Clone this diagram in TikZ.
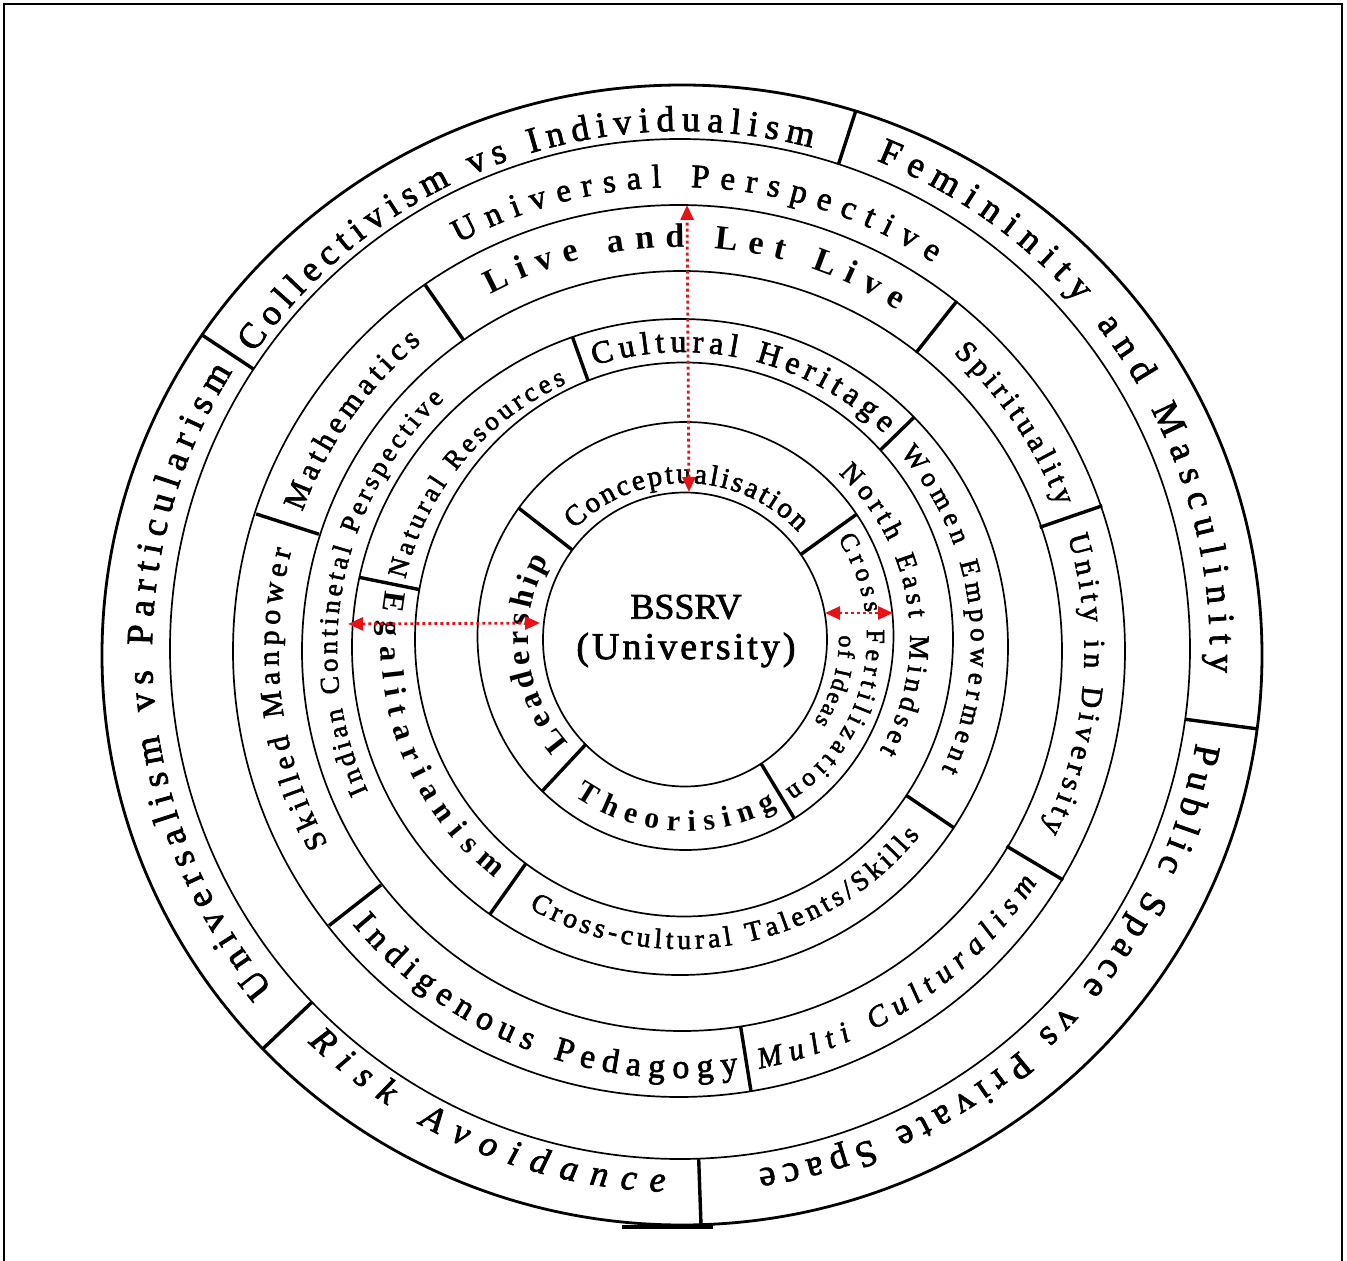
\documentclass[tikz,border=0pt]{standalone}
\usepackage{fontspec}
\setmainfont{Liberation Serif}
\usetikzlibrary{decorations.text,arrows.meta}
\definecolor{arrowred}{RGB}{232,18,22}
% font of a ring label: size, slightly heavier than regular
\newcommand{\rf}[1]{\fontsize{#1}{#1}\selectfont\addfontfeature{FakeBold=2}}
% text fitted along an arc: center, baseline radius, start angle, end angle, font, text
\newcommand{\arctext}[6]{%
  \path[decorate,decoration={text along path,text={|#5|#6},text align={fit to path}}]
    ([shift={#1}]#3:#2) arc[start angle=#3,end angle=#4,radius=#2];}
% radial divider: center, angle, inner radius, outer radius
\newcommand{\divl}[4]{\draw[divline] ([shift={#1}]#2:#3) -- ([shift={#1}]#2:#4);}
\begin{document}
\begin{tikzpicture}[x=1pt,y=1pt,
  ringline/.style={line width=1.7pt},
  outerline/.style={line width=2.8pt},
  divline/.style={line width=3.4pt},
  redarrow/.style={draw=arrowred,line width=2.8pt,dash pattern=on 3pt off 3pt,
     {Triangle[length=15pt,width=13pt,fill=arrowred]}-{Triangle[length=15pt,width=13pt,fill=arrowred]}}]
\useasboundingbox (-681,-613) rectangle (666,648);
\draw[line width=1.8pt] (-677,-613) -- (-677,644) -- (661,644) -- (661,-613);

% circles
\coordinate (c0) at (4,8.5);
\coordinate (c1) at (4.5,12);
\coordinate (c2) at (3,8.5);
\coordinate (c3) at (-1,1);
\coordinate (c4) at (1,-3);
\coordinate (c5) at (-2,-3);
\coordinate (c6) at (-1,-1);
\coordinate (c7) at (1,-7);
\draw[ringline] (c0) ellipse[x radius=142,y radius=147];
\draw[ringline] (c1) ellipse[x radius=208,y radius=214];
\draw[ringline] (c2) ellipse[x radius=269,y radius=277];
\draw[ringline] (c3) circle[radius=328];
\draw[ringline] (c4) circle[radius=380];
\draw[ringline] (c5) circle[radius=446];
\draw[ringline] (c6) circle[radius=510];
\draw[outerline] (c7) ellipse[x radius=580,y radius=570];
\draw[line width=3.5pt] (-59,-579) -- (32,-579);

% ring 7 (outer)
\arctext{(0,-4)}{529}{219.5}{148}{\rf{37}}{Universalism vs Particularism}
\arctext{(0,-4)}{521}{145}{75.5}{\rf{36}}{Collectivism vs Individualism}
\arctext{(0,-4)}{529}{68.3}{-2.2}{\rf{37}}{Femininity and Masculinity}
\arctext{(0,-4)}{523}{-10}{-81.5}{\rf{37}}{Public Space vs Private Space}
\arctext{(0,-4)}{540}{226.3}{268.3}{\rf{36}\itshape}{Risk Avoidance}
\divl{(0,-4)}{146.5}{512.5}{574.5}
\divl{(0,-4)}{72.1}{512.5}{568.4}
\divl{(0,-4)}{-7.6}{508.6}{581.2}
\divl{(0,-4)}{-88}{507}{573}
\divl{(0,-4)}{223.5}{508.7}{576.6}

% ring 6
\arctext{(-1.5,-2)}{463}{118.5}{56.8}{\rf{33}}{Universal Perspective}

% ring 5
\arctext{(-0.5,-3)}{404}{118}{57.5}{\fontsize{34}{34}\selectfont\bfseries}{Live and Let Live}
\arctext{(-0.5,-3)}{404}{47.5}{21}{\rf{30}}{Spirituality}
\arctext{(-0.5,-3)}{404}{16.5}{-26.3}{\rf{30}}{Unity in Diversity}
\arctext{(-0.5,-3)}{425}{-79.3}{-33}{\rf{30}\itshape}{Multi Culturalism}
\arctext{(-0.5,-3)}{427}{219.8}{277.8}{\rf{34}}{Indigenous Pedagogy}
\arctext{(-0.5,-3)}{402}{208.7}{165.5}{\rf{30}}{Skilled Manpower}
\arctext{(-0.5,-3)}{403}{159.8}{130}{\rf{31}}{Mathematics}
\divl{(-0.5,-3)}{124.9}{380}{446}
\divl{(-0.5,-3)}{51.7}{380}{446}
\divl{(-0.5,-3)}{19}{380}{446}
\divl{(-0.5,-3)}{-30.9}{380}{446}
\divl{(-0.5,-3)}{-80.9}{380}{446}
\divl{(-0.5,-3)}{218}{380}{446}
\divl{(-0.5,-3)}{162.1}{380}{446}

% ring 4
\arctext{(0,-1)}{344}{204.5}{133.5}{\rf{27}}{Indian Continetal Perspective}

% ring 3
\arctext{(1,5)}{291}{107.5}{46}{\rf{32}}{Cultural Heritage}
\arctext{(1,5)}{289}{41}{-26}{\rf{27}}{Women Empowerment}
\arctext{(1,5)}{306}{240}{321}{\rf{28}}{Cross-cultural Talents/Skills}
\arctext{(1,5)}{301}{170}{231.5}{\fontsize{31}{31}\selectfont\bfseries}{Egalitarianism}
\arctext{(1,5)}{284}{167}{114}{\rf{27}}{Natural Resources}
\divl{(1,5)}{109.7}{278.7}{324.9}
\divl{(1,5)}{44.2}{276.8}{323.8}
\divl{(1,5)}{-34.2}{271.2}{328.6}
\divl{(1,5)}{234.7}{270.3}{332.4}
\divl{(1,5)}{168.5}{268}{329.2}

% ring 2
\arctext{(4,10)}{225}{47}{-30}{\rf{28}}{North East Mindset}

% ring 1
\arctext{(4,10)}{155}{135.5}{43}{\rf{29}}{Conceptualisation}
\arctext{(4,10)}{182}{33}{-56.5}{\rf{26}}{Cross Fertilization}
\arctext{(4,10)}{154}{1}{-33}{\rf{24}}{of Ideas}
\arctext{(4,10)}{193}{235.3}{298.5}{\fontsize{30}{30}\selectfont\bfseries}{Theorising}
\arctext{(4,10)}{157}{222}{150}{\fontsize{32}{32}\selectfont\bfseries}{Leadership}
\divl{(4,10)}{142}{143}{211.1}
\divl{(4,10)}{35.8}{142.8}{211.7}
\divl{(4,10)}{-58.8}{147}{211}
\divl{(4,10)}{227}{145.8}{209.4}

% centre
\node (bssrv) at (5,41) {\fontsize{36}{40}\selectfont\addfontfeature{FakeBold=2}BSSRV};
\node (univ) at (5,-2) {\fontsize{38}{42}\selectfont\addfontfeature{LetterSpace=8,FakeBold=2}(University)};

% red arrows
\coordinate (vtop) at (6,443);
\coordinate (vbot) at (8,156);
\coordinate (lleft) at (-333,24);
\coordinate (lright) at (-141,25);
\coordinate (rleft) at (144,35);
\coordinate (rright) at (212,35);
\draw[redarrow] (vbot) -- (vtop);
\draw[redarrow] (lleft) -- (lright);
\draw[redarrow] (rleft) -- (rright);
\end{tikzpicture}
\end{document}
